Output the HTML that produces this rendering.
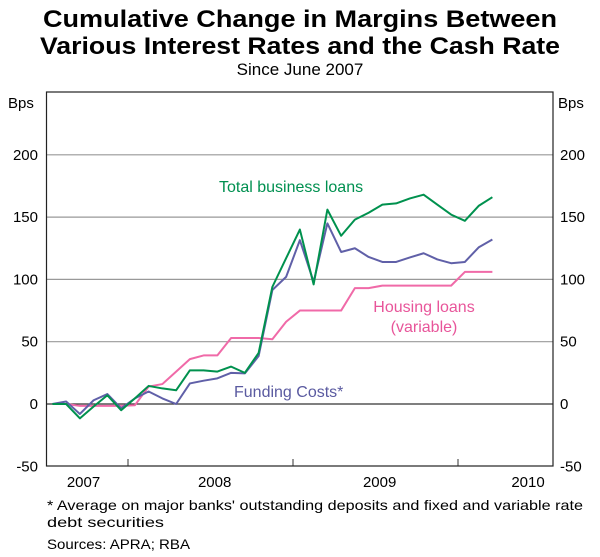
<!DOCTYPE html>
<html><head><meta charset="utf-8"><style>
body{margin:0;background:#fff;font-family:"Liberation Sans",Arial,sans-serif;}
svg text{font-family:"Liberation Sans",Arial,sans-serif;}
</style></head><body>
<svg width="600" height="552" viewBox="0 0 600 552">
<text x="300" y="27" text-anchor="middle" font-size="24" font-weight="bold" textLength="514" lengthAdjust="spacingAndGlyphs">Cumulative Change in Margins Between</text>
<text x="300" y="54" text-anchor="middle" font-size="24" font-weight="bold" textLength="520" lengthAdjust="spacingAndGlyphs">Various Interest Rates and the Cash Rate</text>
<text x="300" y="75" text-anchor="middle" font-size="17">Since June 2007</text>
<text x="8" y="108" font-size="15">Bps</text>
<text x="558" y="108" font-size="15">Bps</text>
<g id="grid"></g>
<g id="series"></g>
<rect x="46.5" y="92" width="506.5" height="374" fill="none" stroke="#222" stroke-width="1.2"/>
<text x="219" y="192" font-size="16" fill="#009050">Total business loans</text>
<text x="424" y="312" text-anchor="middle" font-size="16" fill="#e8559a">Housing loans</text>
<text x="424" y="332" text-anchor="middle" font-size="16" fill="#e8559a">(variable)</text>
<text x="234" y="397" font-size="16" fill="#5a5aa0">Funding Costs*</text>
<text x="47" y="510" font-size="14" textLength="536" lengthAdjust="spacingAndGlyphs">*   Average on major banks' outstanding deposits and fixed and variable rate</text>
<text x="47" y="527" font-size="14" textLength="117" lengthAdjust="spacingAndGlyphs">debt securities</text>
<text x="47" y="549" font-size="14" textLength="143" lengthAdjust="spacingAndGlyphs">Sources: APRA; RBA</text>
</svg>
<script>
const yTicks=[-50,0,50,100,150,200];
const years=["2007","2008","2009","2010"];
const business=[0,0,-11.5,-2,7,-5,4.5,14.5,12.5,11,27,27,26,30,25,41,94,117,140,96,156,135,148,153.5,160,161,165,168,160,152,147,159,166];
const funding=[0,2,-8,3,8,-3.5,4.5,10,4.5,0,16.5,18.7,20.6,25,24.6,38.5,91.5,102,131.5,98,145,122,125,118,114,114,117.6,121,116,113,114,125.7,132];
const housing=[0,0,-1.5,-1.5,-1.5,-1.5,-1,14,16,26,36,39,39,53,53,53,52,66,75,75,75,75,93,93,95,95,95,95,95,95,106,106,106];
const NS="http://www.w3.org/2000/svg";
const L=46.5,R=553,T=92,B=466,MONTH=13.75,X0=45.5;
function y(v){return 404-v*(62.3/50);}
function x(i){return X0+(i+0.5)*MONTH;}
function mk(t,a){const e=document.createElementNS(NS,t);for(const k in a)e.setAttribute(k,a[k]);return e;}
const svg=document.querySelector('svg');
const grid=document.getElementById('grid');
yTicks.forEach(v=>{
  if(v>-50){
    const ln=mk('line',{x1:L,x2:R,y1:y(v),y2:y(v),stroke:v===0?'#333':'#999','stroke-width':v===0?1.3:1.2});
    
    
    grid.appendChild(ln);
  }
  const t1=mk('text',{x:38,y:y(v)+5,'text-anchor':'end','font-size':15});
  t1.textContent=v;
  
  
  svg.appendChild(t1);
  const t2=mk('text',{x:560,y:y(v)+5,'font-size':15});
  t2.textContent=v;
  
  
  svg.appendChild(t2);
});
years.forEach((yr,k)=>{
  const start=6+12*(k-1);
  let cx=X0+(start+6.3)*MONTH;
  cx=Math.min(Math.max(cx,L+37),R-25);
  const t=mk('text',{x:cx,y:487,'text-anchor':'middle','font-size':15});
  t.textContent=yr;
  
  
  svg.appendChild(t);
  if(k>0){
    const tk=mk('line',{x1:X0+start*MONTH,x2:X0+start*MONTH,y1:B,y2:B-7,stroke:'#333','stroke-width':1});
    
    
    grid.appendChild(tk);
  }
});
const ser=document.getElementById('series');
function line(arr,color,name){
  const p=mk('polyline',{points:arr.map((v,i)=>x(i)+','+y(v)).join(' '),fill:'none',stroke:color,'stroke-width':2,'stroke-linejoin':'round'});
  
  
  ser.appendChild(p);
}
line(housing,'#f06aa8','housing-loans-line');
line(funding,'#6060a8','funding-costs-line');
line(business,'#00914e','business-loans-line');
</script>
</body></html>
